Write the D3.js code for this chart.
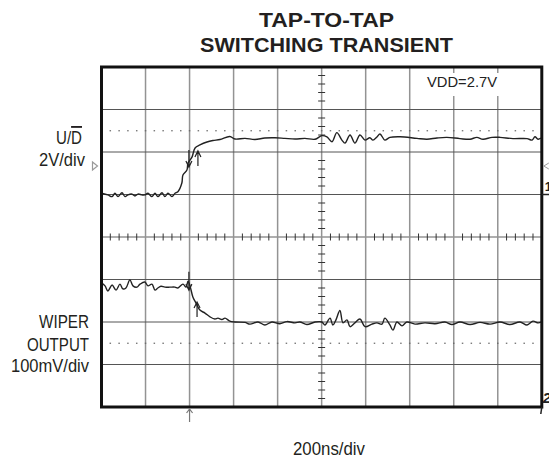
<!DOCTYPE html>
<html>
<head>
<meta charset="utf-8">
<script src="https://cdn.jsdelivr.net/npm/d3@7"></script>
<style>
  html, body { margin: 0; padding: 0; background: #fff; }
  svg { display: block; font-family: "Liberation Sans", Arial, sans-serif; }
</style>
</head>
<body>
<div id="chart"></div>
<script>
(function () {
  "use strict";

  // time in ns relative to the trigger, 200ns/div
  const TIME_DOMAIN = [-400, 1600];
  const TIME_STEP = 200;
  // channel 1 (U/D) in volts, 2V/div ; channel 2 (wiper) in mV, 100mV/div
  const CH1_DOMAIN = [-10, 6];
  const CH2_DOMAIN = [0, 800];
  const CH2_STEP = 100;

  // U/D trace: [ns, V]
  const UD_TRACE = [
    [-400, 0.06], [-371, -0.02], [-352, -0.10], [-339, 0.06], [-325, -0.10], [-307, 0.08],
    [-293, -0.10], [-280, -0.02], [-262, 0.02], [-248, -0.07], [-234, 0.02], [-216, -0.02],
    [-203, -0.02], [-189, 0.06], [-171, -0.10], [-157, 0.06], [-144, -0.10], [-125, 0.08],
    [-112, -0.10], [-98, 0.06], [-80, -0.10], [-66, 0.06], [-53, 0.13], [-35, 0.54],
    [-30, 0.92], [-12, 1.15], [-7, 1.48], [11, 1.76], [25, 2.19], [47, 2.33], [79, 2.47],
    [106, 2.54], [138, 2.59], [183, 2.73], [206, 2.61], [252, 2.64], [297, 2.59], [342, 2.66],
    [388, 2.67], [433, 2.64], [479, 2.61], [524, 2.64], [570, 2.60], [601, 2.77], [624, 2.71],
    [647, 2.48], [669, 2.91], [692, 2.56], [706, 2.42], [729, 2.80], [751, 2.42], [774, 2.80],
    [797, 2.56], [819, 2.67], [833, 2.56], [851, 2.71], [865, 2.85], [887, 2.56], [910, 2.69],
    [956, 2.72], [1033, 2.64], [1078, 2.60], [1124, 2.66], [1169, 2.69], [1228, 2.63],
    [1274, 2.60], [1305, 2.69], [1333, 2.60], [1374, 2.69], [1410, 2.69], [1469, 2.63],
    [1533, 2.63], [1556, 2.56], [1569, 2.72], [1583, 2.60], [1596, 2.66]
  ];

  // wiper output trace: [ns, mV]
  const WIPER_TRACE = [
    [-400, 292], [-384, 285], [-371, 273], [-352, 287], [-334, 275], [-316, 289], [-303, 278],
    [-289, 280], [-271, 299], [-257, 285], [-239, 282], [-225, 289], [-203, 294], [-189, 285],
    [-171, 289], [-157, 275], [-144, 280], [-130, 284], [-112, 282], [-89, 282], [-66, 282],
    [-53, 280], [-30, 289], [-16, 282], [-7, 296], [2, 285], [15, 259], [29, 245], [47, 228],
    [70, 221], [93, 212], [115, 207], [129, 209], [147, 206], [161, 209], [183, 202], [206, 200],
    [252, 199], [274, 195], [311, 200], [342, 193], [374, 200], [410, 196], [442, 201],
    [479, 198], [501, 200], [533, 194], [570, 200], [601, 200], [615, 193], [638, 209],
    [651, 193], [665, 205], [683, 227], [697, 198], [715, 205], [729, 189], [751, 198],
    [774, 207], [797, 189], [828, 195], [851, 198], [874, 195], [887, 209], [910, 193],
    [924, 181], [942, 200], [965, 191], [987, 200], [1024, 195], [1069, 198], [1115, 196],
    [1160, 200], [1192, 194], [1228, 200], [1274, 194], [1319, 199], [1365, 195], [1410, 200],
    [1455, 194], [1501, 200], [1533, 193], [1560, 202], [1583, 198], [1596, 200]
  ];

  // cursor arrows: [ns, from, to] (arrow head at "to")
  const UD_CURSORS = [[-3, 2.09, 1.29], [38, 1.34, 2.05]];
  const WIPER_CURSORS = [[-3, 318, 275], [34, 212, 247]];
  // dotted cursor levels
  const UD_LEVEL = 3.0;
  const WIPER_LEVEL = 150;
  const TRIGGER_LEVEL = 1.34;

  const width = 549;
  const height = 461;
  const plot = { left: 101.5, right: 541.8, top: 67, bottom: 407 };

  const svg = d3.select("#chart").append("svg")
    .attr("width", width)
    .attr("height", height);

  const x = d3.scaleLinear().domain(TIME_DOMAIN).range([plot.left, plot.right]);
  const y1 = d3.scaleLinear().domain(CH1_DOMAIN).range([plot.bottom, plot.top]);
  const y2 = d3.scaleLinear().domain(CH2_DOMAIN).range([plot.bottom, plot.top]);

  const majorT = d3.range(TIME_DOMAIN[0] + TIME_STEP, TIME_DOMAIN[1], TIME_STEP);
  const majorV = d3.range(CH2_DOMAIN[0] + CH2_STEP, CH2_DOMAIN[1], CH2_STEP);
  const minorT = d3.range(TIME_DOMAIN[0] + TIME_STEP / 5, TIME_DOMAIN[1], TIME_STEP / 5);
  const minorV = d3.range(CH2_DOMAIN[0] + CH2_STEP / 5, CH2_DOMAIN[1], CH2_STEP / 5);
  const tMid = (TIME_DOMAIN[0] + TIME_DOMAIN[1]) / 2;
  const vMid = (CH2_DOMAIN[0] + CH2_DOMAIN[1]) / 2;

  // grid
  const grid = svg.append("g");
  grid.selectAll(".vline")
    .data(majorT)
    .join("line")
    .attr("x1", (d) => x(d)).attr("x2", (d) => x(d))
    .attr("y1", plot.top).attr("y2", plot.bottom)
    .attr("stroke", "#939393")
    .attr("stroke-width", 1.5);
  grid.selectAll(".hline")
    .data(majorV)
    .join("line")
    .attr("x1", plot.left).attr("x2", plot.right)
    .attr("y1", (d) => y2(d)).attr("y2", (d) => y2(d))
    .attr("stroke", (d) => d === vMid ? "#939393" : "#555")
    .attr("stroke-width", (d) => d === vMid ? 1.5 : 1);

  // minor ticks on the centre lines
  grid.selectAll(".tickx")
    .data(minorT.filter((d) => d % TIME_STEP !== 0))
    .join("line")
    .attr("x1", (d) => x(d)).attr("x2", (d) => x(d))
    .attr("y1", y2(vMid) - 3.5).attr("y2", y2(vMid) + 3.5)
    .attr("stroke", "#333")
    .attr("stroke-width", 1);
  grid.selectAll(".ticky")
    .data(minorV.filter((d) => d % CH2_STEP !== 0))
    .join("line")
    .attr("x1", x(tMid) - 3.5).attr("x2", x(tMid) + 3.5)
    .attr("y1", (d) => y2(d)).attr("y2", (d) => y2(d))
    .attr("stroke", "#333")
    .attr("stroke-width", 1);

  // dotted cursor levels
  const dotLevels = [y1(UD_LEVEL), y2(WIPER_LEVEL)];
  dotLevels.forEach((yy) => {
    grid.append("g").selectAll("rect")
      .data(minorT)
      .join("rect")
      .attr("x", (d) => x(d) - 0.75)
      .attr("y", yy - 0.6)
      .attr("width", 1.5)
      .attr("height", 1.2)
      .attr("fill", "#666");
  });

  // VDD label with white box
  svg.append("rect")
    .attr("x", 415).attr("y", 73)
    .attr("width", 90).attr("height", 23)
    .attr("fill", "#fff");
  svg.append("text")
    .attr("x", 427).attr("y", 87)
    .attr("font-size", 14)
    .attr("textLength", 70)
    .attr("lengthAdjust", "spacingAndGlyphs")
    .attr("fill", "#222")
    .text("VDD=2.7V");

  // traces
  const line1 = d3.line().x((d) => x(d[0])).y((d) => y1(d[1])).curve(d3.curveCatmullRom.alpha(0.5));
  const line2 = d3.line().x((d) => x(d[0])).y((d) => y2(d[1])).curve(d3.curveCatmullRom.alpha(0.5));
  svg.append("path")
    .attr("d", line1(UD_TRACE))
    .attr("fill", "none")
    .attr("stroke", "#222")
    .attr("stroke-width", 1.4)
    .attr("stroke-linejoin", "round");
  svg.append("path")
    .attr("d", line2(WIPER_TRACE))
    .attr("fill", "none")
    .attr("stroke", "#222")
    .attr("stroke-width", 1.4)
    .attr("stroke-linejoin", "round");

  // cursor arrows
  function arrow(g, xx, ya, yb) {
    const dir = yb > ya ? 1 : -1;
    g.append("path")
      .attr("d", `M${xx},${ya}L${xx},${yb}M${xx - 3},${yb - dir * 6}L${xx},${yb}L${xx + 3},${yb - dir * 6}`)
      .attr("fill", "none")
      .attr("stroke", "#222")
      .attr("stroke-width", 1.2);
  }
  const cur = svg.append("g");
  UD_CURSORS.forEach((c) => arrow(cur, x(c[0]), y1(c[1]), y1(c[2])));
  WIPER_CURSORS.forEach((c) => arrow(cur, x(c[0]), y2(c[1]), y2(c[2])));

  // frame
  svg.append("rect")
    .attr("x", plot.left).attr("y", plot.top)
    .attr("width", plot.right - plot.left)
    .attr("height", plot.bottom - plot.top)
    .attr("fill", "none")
    .attr("stroke", "#111")
    .attr("stroke-width", 3);

  // trigger position arrow below the frame
  const tx = x(0);
  svg.append("path")
    .attr("d", `M${tx},${plot.bottom + 2}L${tx},${plot.bottom + 15}M${tx - 3},${plot.bottom + 6}L${tx},${plot.bottom + 2}L${tx + 3},${plot.bottom + 6}`)
    .attr("fill", "none")
    .attr("stroke", "#777")
    .attr("stroke-width", 1.2);

  // trigger level marker on the left
  const tl = y1(TRIGGER_LEVEL);
  svg.append("path")
    .attr("d", `M${plot.left - 9},${tl - 4}L${plot.left - 4},${tl}L${plot.left - 9},${tl + 4}Z`)
    .attr("fill", "none")
    .attr("stroke", "#999")
    .attr("stroke-width", 1.2);

  // channel ground markers on the right
  svg.append("path")
    .attr("d", `M${plot.right + 7},${tl - 3}L${plot.right + 2},${tl}L${plot.right + 7},${tl + 3}`)
    .attr("fill", "none")
    .attr("stroke", "#999")
    .attr("stroke-width", 1);
  svg.append("line")
    .attr("x1", plot.right).attr("x2", width)
    .attr("y1", y1(0)).attr("y2", y1(0))
    .attr("stroke", "#222")
    .attr("stroke-width", 1.5);
  svg.append("text")
    .attr("x", plot.right + 3).attr("y", y1(0) - 4)
    .attr("font-size", 13).attr("font-weight", "bold")
    .attr("fill", "#222")
    .text("1");
  svg.append("text")
    .attr("x", plot.right + 1).attr("y", y2(0) - 4)
    .attr("font-size", 15).attr("font-weight", "bold")
    .attr("font-style", "italic")
    .attr("fill", "#222")
    .text("2");
  svg.append("line")
    .attr("x1", plot.right).attr("x2", plot.right - 1)
    .attr("y1", y2(0)).attr("y2", y2(0) + 7)
    .attr("stroke", "#222")
    .attr("stroke-width", 1.5);

  // title
  const title = [["TAP-TO-TAP", 27, 135], ["SWITCHING TRANSIENT", 52, 253]];
  svg.selectAll(".title")
    .data(title)
    .join("text")
    .attr("x", 326.5)
    .attr("y", (d) => d[1])
    .attr("text-anchor", "middle")
    .attr("font-size", 19.5)
    .attr("font-weight", "bold")
    .attr("textLength", (d) => d[2])
    .attr("lengthAdjust", "spacingAndGlyphs")
    .attr("fill", "#231f20")
    .text((d) => d[0]);

  // channel labels
  function label(txt, right, base, w) {
    return svg.append("text")
      .attr("x", right - w).attr("y", base)
      .attr("font-size", 18.5)
      .attr("textLength", w)
      .attr("lengthAdjust", "spacingAndGlyphs")
      .attr("fill", "#231f20")
      .text(txt);
  }
  const ud = svg.append("text")
    .attr("x", 56).attr("y", 144)
    .attr("font-size", 18.5)
    .attr("textLength", 26)
    .attr("lengthAdjust", "spacingAndGlyphs")
    .attr("fill", "#231f20");
  ud.append("tspan").text("U/");
  ud.append("tspan").style("text-decoration", "overline").text("D");
  label("2V/div", 85, 166, 46);
  label("WIPER", 89, 328, 50);
  label("OUTPUT", 89, 351, 62);
  label("100mV/div", 89, 372, 78);
  label("200ns/div", 365, 455, 72);
})();
</script>
</body>
</html>
